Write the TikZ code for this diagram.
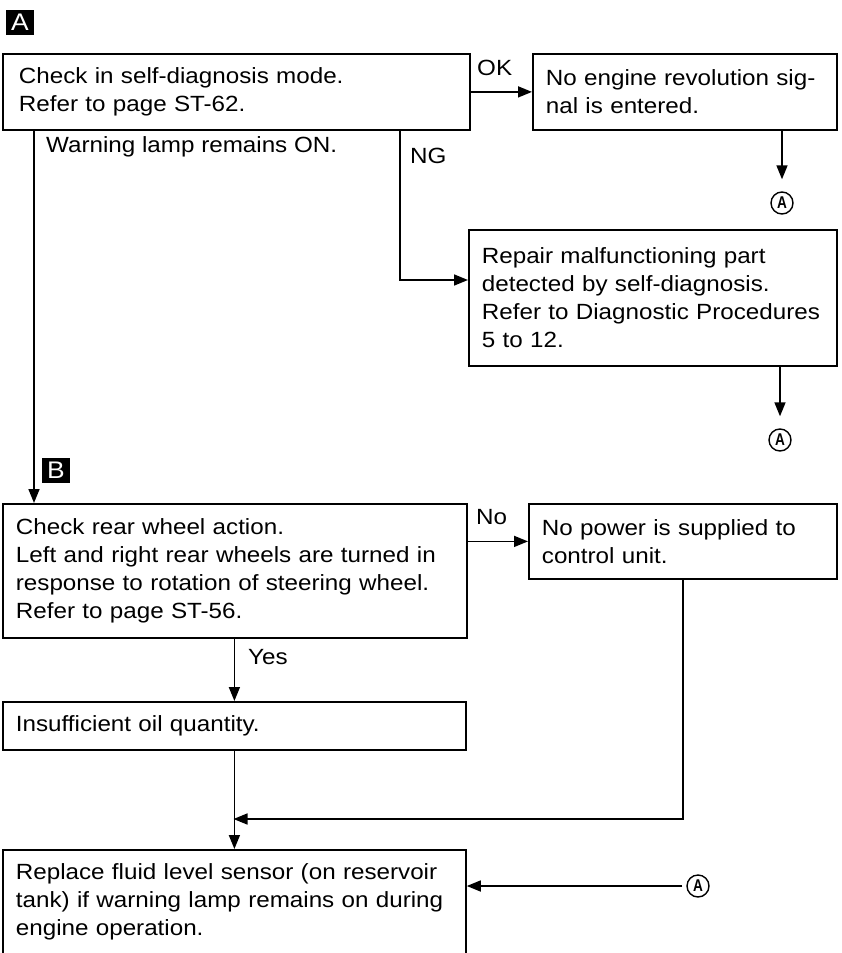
\documentclass[tikz,border=0pt]{standalone}
\usepackage{fontspec}
\setmainfont{Liberation Sans}[FakeStretch=1.1]
\newfontfamily\circfont{Liberation Sans}[FakeStretch=0.8]
\usetikzlibrary{arrows.meta}
\begin{document}
\begin{tikzpicture}[x=1pt,y=-1pt,
 box/.style={draw, line width=1.8pt, anchor=north west, align=left, inner xsep=13pt, inner ysep=0pt, font=\fontsize{22}{28}\selectfont},
 conn/.style={line width=1.6pt},
 arr/.style={conn, -{Triangle[length=14pt,width=11pt]}},
 lbl/.style={font=\fontsize{22}{28}\selectfont, inner sep=0pt},
 tag/.style={fill=black, text=white, minimum width=28pt, minimum height=25pt, inner sep=0pt, font=\fontsize{24}{24}\selectfont},
 circ/.style={circle, draw, line width=1.4pt, minimum size=22pt, inner sep=0pt, font=\circfont\bfseries\fontsize{17}{17}\selectfont}]
\useasboundingbox (0,0) rectangle (841,953);
\clip (0,0) rectangle (841,952);

% boxes
\node[box, inner xsep=16pt, minimum width=467pt, minimum height=76pt, text width=435pt] (b1) at (2,53)
 {Check in self-diagnosis mode.\\Refer to page ST-62.};
\node[box, minimum width=304pt, minimum height=76pt, text width=278pt] (b2) at (532,53)
 {No engine revolution sig-\\nal is entered.};
\node[box, minimum width=368pt, minimum height=136pt, text width=342pt] (rep) at (468,229)
 {Repair malfunctioning part\\detected by self-diagnosis.\\Refer to Diagnostic Procedures\\5 to 12.};
\node[box, minimum width=464pt, minimum height=134pt, text width=438pt] (b3) at (2,503)
 {Check rear wheel action.\\Left and right rear wheels are turned in\\response to rotation of steering wheel.\\Refer to page ST-56.};
\node[box, minimum width=308pt, minimum height=75pt, text width=282pt] (b4) at (528,503)
 {No power is supplied to\\control unit.};
\node[box, minimum width=463pt, minimum height=48pt, text width=437pt] (b5) at (2,701)
 {Insufficient oil quantity.};
\node[box, minimum width=463pt, minimum height=104pt, text width=437pt] (b6) at (2,849)
 {Replace fluid level sensor (on reservoir\\tank) if warning lamp remains on during\\engine operation.};

% circled connectors and tags
\node[circ] (a1) at (782,203) {A};
\node[circ] (a2) at (780,440) {A};
\node[circ] (a3) at (698,886) {A};
\node[tag] (ta) at (20,22) {A};
\node[tag] (tb) at (56,470) {B};

% labels
\node[lbl, anchor=west] (lok) at (477,68) {OK};
\node[lbl, anchor=west] (lng) at (410,156) {NG};
\node[lbl, anchor=west] (lwl) at (46,147) {Warning lamp remains ON.};
\node[lbl, anchor=west] (lno) at (476,517) {No};
\node[lbl, anchor=west] (lyes) at (248,657) {Yes};

% helper coordinates
\coordinate (wl) at (34,0);
\coordinate (ng) at (400,280);
\coordinate (jn) at (233.5,819);

% connectors
\draw[arr] (b1.east) -- (b2.west);
\draw[arr, shorten >=12pt] (b2.south -| a1) -- (a1.north);
\draw[arr] (b1.south -| wl) -- (b3.north -| wl);
\draw[arr] (b1.south -| ng) |- (rep.west |- ng);
\draw[arr, shorten >=12pt] (rep.south -| a2) -- (a2.north);
\draw[arr] (b3.east |- b4.west) -- (b4.west);
\draw[arr] (b3.south -| b5.north) -- (b5.north);
\draw[arr] (b5.south) -- (b6.north);
\draw[arr] (b4.south) |- (jn);
\draw[arr, shorten <=4pt] (a3.west) -- (b6.east |- a3.west);
\end{tikzpicture}
\end{document}
